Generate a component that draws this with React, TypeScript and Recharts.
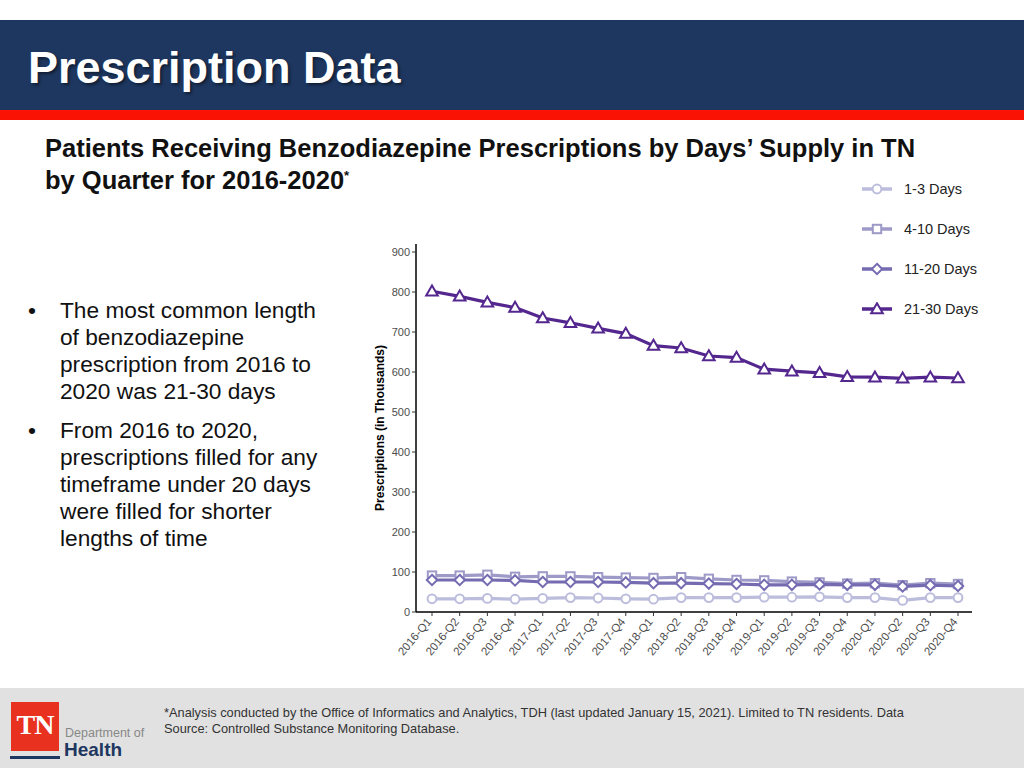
import React from 'react';
import { LineChart, Line, XAxis, YAxis } from 'recharts';

// ── Data ──────────────────────────────────────────────────────────────────────

const QUARTERS = [
  '2016-Q1', '2016-Q2', '2016-Q3', '2016-Q4',
  '2017-Q1', '2017-Q2', '2017-Q3', '2017-Q4',
  '2018-Q1', '2018-Q2', '2018-Q3', '2018-Q4',
  '2019-Q1', '2019-Q2', '2019-Q3', '2019-Q4',
  '2020-Q1', '2020-Q2', '2020-Q3', '2020-Q4',
];

const DAYS_1_3 = [33, 33, 34, 32, 34, 36, 35, 33, 32, 36, 36, 36, 37, 37, 38, 36, 36, 29, 36, 36];
const DAYS_4_10 = [91, 91, 93, 88, 89, 89, 87, 86, 85, 87, 83, 80, 79, 76, 74, 71, 72, 67, 72, 70];
const DAYS_11_20 = [80, 80, 80, 79, 75, 75, 75, 74, 72, 72, 71, 70, 68, 68, 69, 68, 68, 64, 67, 65];
const DAYS_21_30 = [802, 789, 774, 761, 735, 723, 709, 696, 666, 660, 640, 636, 607, 602, 598, 588, 587, 584, 587, 585];

const Y_TICKS = [0, 100, 200, 300, 400, 500, 600, 700, 800, 900];

const BULLETS = [
  ['The most common length', 'of benzodiazepine', 'prescription from 2016 to', '2020 was 21-30 days'],
  ['From 2016 to 2020,', 'prescriptions filled for any', 'timeframe under 20 days', 'were filled for shorter', 'lengths of time'],
];

type Shape = 'circle' | 'square' | 'diamond' | 'triangle';

const SERIES: { key: string; name: string; color: string; shape: Shape }[] = [
  { key: 'd1_3', name: '1-3 Days', color: '#bcbddc', shape: 'circle' },
  { key: 'd4_10', name: '4-10 Days', color: '#9e9ac8', shape: 'square' },
  { key: 'd11_20', name: '11-20 Days', color: '#756bb1', shape: 'diamond' },
  { key: 'd21_30', name: '21-30 Days', color: '#54278f', shape: 'triangle' },
];

const chartData = QUARTERS.map((q, i) => ({
  quarter: q,
  d1_3: DAYS_1_3[i],
  d4_10: DAYS_4_10[i],
  d11_20: DAYS_11_20[i],
  d21_30: DAYS_21_30[i],
}));

const FONT = '"Liberation Sans", Arial, sans-serif';

// ── Markers ──────────────────────────────────────────────────────────────────

const Marker: React.FC<{ cx: number; cy: number; shape: Shape; color: string }> = ({ cx, cy, shape, color }) => {
  const common = { fill: '#ffffff', stroke: color, strokeWidth: 2 };
  if (shape === 'circle') return <circle cx={cx} cy={cy} r={4.4} {...common} />;
  if (shape === 'square') return <rect x={cx - 4.2} y={cy - 4.2} width={8.4} height={8.4} {...common} />;
  if (shape === 'diamond') {
    return <polygon points={`${cx},${cy - 5.2} ${cx + 5.2},${cy} ${cx},${cy + 5.2} ${cx - 5.2},${cy}`} {...common} />;
  }
  return <polygon points={`${cx},${cy - 5.8} ${cx + 5.8},${cy + 4.2} ${cx - 5.8},${cy + 4.2}`} {...common} />;
};

const makeDot = (shape: Shape, color: string) => (props: any) => {
  const { cx, cy, index } = props;
  if (cx == null || cy == null) return <g key={index} />;
  return <Marker key={index} cx={cx} cy={cy} shape={shape} color={color} />;
};

// ── Axis bits ────────────────────────────────────────────────────────────────

const QuarterTick = (props: any) => {
  const { x, y, payload } = props;
  return (
    <text
      x={x}
      y={y}
      dy={4}
      textAnchor="end"
      transform={`rotate(-50, ${x}, ${y + 4})`}
      fill="#4d4d4d"
      fontSize={11.5}
      fontFamily={FONT}
    >
      {payload.value}
    </text>
  );
};

const YLabel = (props: any) => {
  const vb = props.viewBox;
  const x = vb.x + 20;
  const y = vb.y + vb.height / 2;
  return (
    <text
      x={x}
      y={y}
      textAnchor="middle"
      dominantBaseline="central"
      transform={`rotate(-90, ${x}, ${y})`}
      fontSize={12}
      fontWeight="bold"
      fontFamily={FONT}
      fill="#000"
    >
      Prescriptions (in Thousands)
    </text>
  );
};

const LegendBox = () => (
  <div style={{ fontFamily: FONT, fontSize: 14.5, color: '#222' }}>
    {SERIES.map((s) => (
      <div key={s.key} style={{ display: 'flex', alignItems: 'center', height: 40 }}>
        <svg width={32} height={14} style={{ marginRight: 11 }}>
          <line x1={1} y1={7} x2={31} y2={7} stroke={s.color} strokeWidth={3.5} />
          <Marker cx={16} cy={7} shape={s.shape} color={s.color} />
        </svg>
        <span>{s.name}</span>
      </div>
    ))}
  </div>
);

// ── App ──────────────────────────────────────────────────────────────────────

const App: React.FC = () => (
  <div
    style={{
      position: 'absolute', left: 0, top: 0, width: 1024, height: 768,
      background: '#ffffff', overflow: 'hidden', fontFamily: FONT,
    }}
  >
    {/* header band */}
    <div style={{ position: 'absolute', left: 0, top: 20, width: 1024, height: 90, background: '#1e3760' }} />
    <div style={{ position: 'absolute', left: 0, top: 110, width: 1024, height: 10, background: '#fa1205' }} />
    <div
      style={{
        position: 'absolute', left: 28, top: 41, color: '#ffffff', fontSize: 45, fontWeight: 'bold',
        textShadow: '2px 2px 3px rgba(0,0,0,0.45)', lineHeight: '54px',
      }}
    >
      Prescription Data
    </div>

    {/* chart title */}
    <div
      style={{
        position: 'absolute', left: 45, top: 132, fontSize: 25.5, fontWeight: 'bold',
        color: '#111', lineHeight: '32px', whiteSpace: 'nowrap',
      }}
    >
      Patients Receiving Benzodiazepine Prescriptions by Days’ Supply in TN
      <br />
      by Quarter for 2016-2020<sup style={{ fontSize: 13, verticalAlign: 'top', lineHeight: '24px' }}>*</sup>
    </div>

    {/* bullets */}
    <div style={{ position: 'absolute', left: 28, top: 297, fontSize: 22.7, color: '#111', lineHeight: '27px' }}>
      {BULLETS.map((lines, bi) => (
        <div key={bi} style={{ display: 'flex', marginBottom: 12 }}>
          <div style={{ width: 32 }}>•</div>
          <div style={{ whiteSpace: 'nowrap' }}>
            {lines.map((l) => (
              <div key={l}>{l}</div>
            ))}
          </div>
        </div>
      ))}
    </div>

    {/* chart */}
    <div style={{ position: 'absolute', left: 360, top: 170 }}>
      <LineChart
        width={640}
        height={510}
        data={chartData}
        margin={{ top: 74, right: 28, left: 0, bottom: 0 }}
      >
        <XAxis
          dataKey="quarter"
          height={68}
          padding={{ left: 16, right: 14 }}
          interval={0}
          tick={<QuarterTick />}
          tickLine={{ stroke: '#333' }}
          tickSize={4}
          axisLine={{ stroke: '#000', strokeWidth: 1.5 }}
        />
        <YAxis
          width={56}
          domain={[0, 920]}
          ticks={Y_TICKS}
          interval={0}
          tick={{ fill: '#4d4d4d', fontSize: 11, fontFamily: FONT }}
          tickLine={{ stroke: '#333' }}
          tickSize={4}
          axisLine={{ stroke: '#000', strokeWidth: 1.5 }}
          label={{ content: <YLabel /> }}
        />
        {SERIES.map((s) => (
          <Line
            key={s.key}
            dataKey={s.key}
            name={s.name}
            type="linear"
            stroke={s.color}
            strokeWidth={3.2}
            dot={makeDot(s.shape, s.color)}
            activeDot={false}
            isAnimationActive={false}
          />
        ))}
      </LineChart>
    </div>

    {/* legend */}
    <div style={{ position: 'absolute', left: 861, top: 169 }}>
      <LegendBox />
    </div>

    {/* footer */}
    <div style={{ position: 'absolute', left: 0, top: 688, width: 1024, height: 80, background: '#e1e1e1' }} />
    <div
      style={{
        position: 'absolute', left: 11, top: 702, width: 48, height: 49, background: '#e8321f',
        color: '#fff', fontFamily: '"Liberation Serif", serif', fontSize: 28, fontWeight: 'bold',
        lineHeight: '46px', textAlign: 'center', letterSpacing: -1,
      }}
    >
      TN
    </div>
    <div style={{ position: 'absolute', left: 10, top: 756, width: 50, height: 3, background: '#1e3760' }} />
    <div style={{ position: 'absolute', left: 65, top: 726, fontSize: 12.5, color: '#888' }}>Department of</div>
    <div style={{ position: 'absolute', left: 64, top: 739, fontSize: 19, fontWeight: 'bold', color: '#1e3760' }}>Health</div>
    <div
      style={{
        position: 'absolute', left: 164, top: 705, width: 800, fontSize: 12.8, lineHeight: '15.5px',
        color: '#333', whiteSpace: 'nowrap',
      }}
    >
      *Analysis conducted by the Office of Informatics and Analytics, TDH (last updated January 15, 2021). Limited to TN residents. Data
      <br />
      Source: Controlled Substance Monitoring Database.
    </div>
  </div>
);

export default App;
